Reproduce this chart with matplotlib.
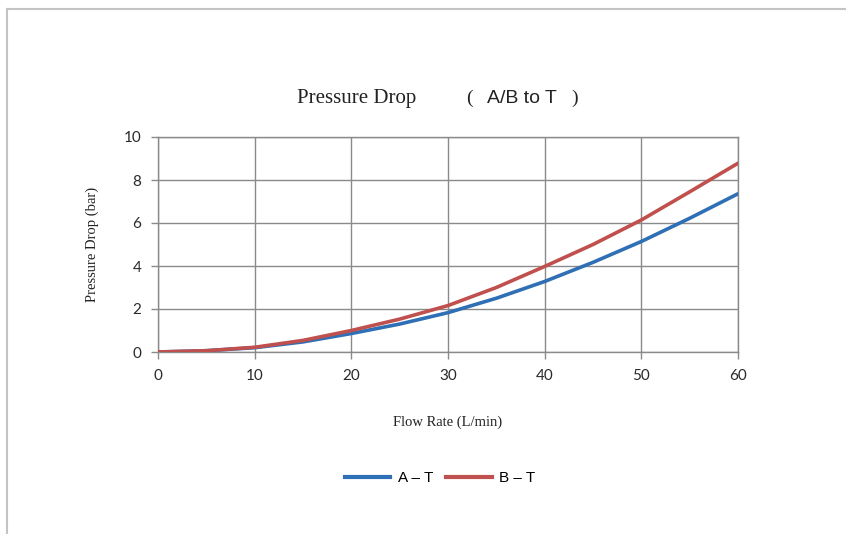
import numpy as np
import matplotlib
matplotlib.use("Agg")
from matplotlib import pyplot as plt
from matplotlib.lines import Line2D

# data
flow = [0, 5, 10, 15, 20, 25, 30, 35, 40, 45, 50, 55, 60]
a_t = [0.0, 0.06, 0.2, 0.47, 0.86, 1.3, 1.83, 2.5, 3.28, 4.17, 5.14, 6.22, 7.36]
b_t = [0.0, 0.06, 0.22, 0.54, 1.0, 1.53, 2.16, 3.0, 3.98, 5.0, 6.14, 7.45, 8.78]
series_names = ["A \u2013 T", "B \u2013 T"]
x_ticks = [0, 10, 20, 30, 40, 50, 60]
y_ticks = [0, 2, 4, 6, 8, 10]

blue = "#2f6fb5"
red = "#c0504d"
grid_c = "#8a8a8a"

fig = plt.figure(figsize=(8.46, 5.34), dpi=100)
fig.patch.set_facecolor("white")

# outer chart frame (top + left edges visible)
fig.add_artist(Line2D([7/846, 1.0], [1-9/534, 1-9/534], transform=fig.transFigure,
                      color="#c4c4c4", lw=1.5))
fig.add_artist(Line2D([7/846, 7/846], [0, 1-9/534], transform=fig.transFigure,
                      color="#c4c4c4", lw=1.5))

ax = fig.add_axes([158/846, 1-352/534, (738-158)/846, (352-137)/534])
ax.plot(flow, a_t, color=blue, lw=2.6, solid_capstyle="round",
        solid_joinstyle="round", zorder=3)
ax.plot(flow, b_t, color=red, lw=2.6, solid_capstyle="round",
        solid_joinstyle="round", zorder=4)

ax.set_xlim(0, 60)
ax.set_ylim(0, 10)
ax.set_xticks(x_ticks)
ax.set_yticks(y_ticks)
ax.grid(True, color=grid_c, lw=1)
ax.set_axisbelow(True)
for s in ax.spines.values():
    s.set_color(grid_c)
    s.set_linewidth(1)
ax.tick_params(axis="both", colors=grid_c, length=5, width=1, direction="out",
               labelcolor="#2a2a2a", labelsize=11, pad=7)
for lab in ax.get_xticklabels() + ax.get_yticklabels():
    lab.set_family(["Lato", "DejaVu Sans"])

ax.set_xlabel("Flow Rate (L/min)", family="Liberation Serif", fontsize=10.5,
              color="#222222", labelpad=24)
ax.set_ylabel("Pressure Drop (bar)", family="Liberation Serif", fontsize=10.5,
              color="#222222", labelpad=18)

# title in two fonts
fig.text(297/846, 1-103/534, "Pressure Drop", family="Liberation Serif",
         fontsize=15, color="#222222", ha="left", va="baseline")
fig.text(466/846, 1-103/534, "(", family="Liberation Serif", fontsize=14,
         color="#222222", ha="left", va="baseline")
fig.text(487/846, 1-103/534, "A/B to T", family="Liberation Sans", fontsize=14,
         color="#222222", ha="left", va="baseline")
fig.text(571/846, 1-103/534, ")", family="Liberation Serif", fontsize=14,
         color="#222222", ha="left", va="baseline")

handles = [Line2D([], [], color=blue, lw=3), Line2D([], [], color=red, lw=3)]
fig.legend(handles, series_names, loc="center", bbox_to_anchor=(440/846, 1-478/534),
           ncol=2, frameon=False, handlelength=3.0, handletextpad=0.5,
           columnspacing=0.8, prop={"family": "Liberation Sans", "size": 11})

fig.savefig("out.png", dpi=100, facecolor="white")
